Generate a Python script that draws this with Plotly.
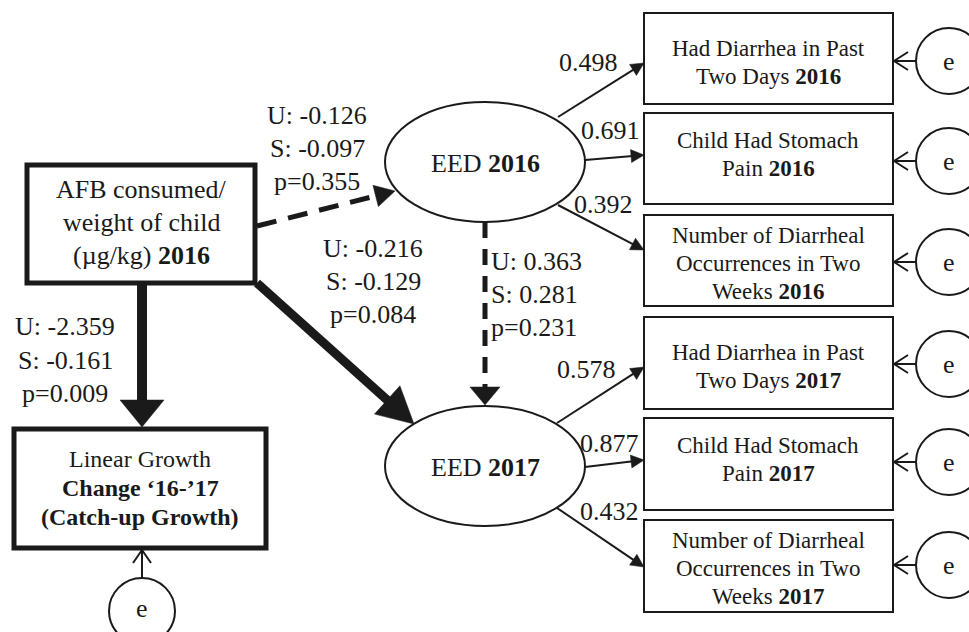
import math
import plotly.graph_objects as go

W, H = 969, 632
FONT = "Liberation Serif, Times New Roman, serif"
INK = "#1a1a1a"

# ---------------- data ----------------
years = ["2016", "2017"]
indicator_lines = [
    ["Had Diarrhea in Past", "Two Days <b>{y}</b>"],
    ["Child Had Stomach", "Pain <b>{y}</b>"],
    ["Number of Diarrheal", "Occurrences in Two", "Weeks <b>{y}</b>"],
]
loadings_2016 = [0.498, 0.691, 0.392]
loadings_2017 = [0.578, 0.877, 0.432]

# structural paths: AFB->EED16, AFB->EED17, EED16->EED17, AFB->Growth
path_U = [-0.126, -0.216, 0.363, -2.359]
path_S = [-0.097, -0.129, 0.281, -0.161]
path_p = [0.355, 0.084, 0.231, 0.009]

afb_lines = ["AFB consumed/", "weight of child", "(µg/kg) <b>2016</b>"]
growth_lines = ["Linear Growth", "<b>Change ‘16-’17</b>", "<b>(Catch-up Growth)</b>"]

# ---------------- layout geometry ----------------
AFB_BOX = (27, 255, 165, 283)
GROWTH_BOX = (14, 266, 429, 548)
EED_X = (385, 585)
EED_Y = [(102, 222), (406, 526)]
IND_X = (644, 893)
IND_Y = [[(13, 104), (113, 204), (215, 306)], [(317, 409), (418, 510), (520, 612)]]
IND_FIRST = [35, 27, 20]
E_CX, E_R = 949, 33
E_CY = [[61, 161, 262], [364, 462, 565]]
LOAD_FROM = [[(558, 117), (585, 160), (558, 205)], [(557, 423), (585, 467), (557, 508)]]
LOAD_TO = [[(644, 63), (644, 155), (644, 250)], [(644, 367), (644, 460), (644, 567)]]
LOAD_LBL = [[(588, 62), (610, 130), (603, 204)], [(586, 369), (609, 443), (609, 511)]]

shapes, annos = [], []


def line(x0, y0, x1, y1, w, dash=None):
    shapes.append(dict(type="line", xref="x", yref="y", x0=x0, y0=y0, x1=x1, y1=y1,
                       line=dict(color=INK, width=w, dash=dash)))


def arrow(x0, y0, x1, y1, w, hl, hw, dash=None):
    dx, dy = x1 - x0, y1 - y0
    L = math.hypot(dx, dy)
    ux, uy = dx / L, dy / L
    bx, by = x1 - ux * hl, y1 - uy * hl
    line(x0, y0, bx + ux * 2, by + uy * 2, w, dash)
    px, py = -uy, ux
    shapes.append(dict(type="path", xref="x", yref="y",
                       path=f"M{x1},{y1} L{bx + px * hw / 2},{by + py * hw / 2} "
                            f"L{bx - px * hw / 2},{by - py * hw / 2} Z",
                       fillcolor=INK, line=dict(color=INK, width=0.5)))


def open_arrow(x0, y0, x1, y1, w, hl, hw):
    dx, dy = x1 - x0, y1 - y0
    L = math.hypot(dx, dy)
    ux, uy = dx / L, dy / L
    bx, by = x1 - ux * hl, y1 - uy * hl
    px, py = -uy, ux
    line(x0, y0, x1, y1, w)
    line(x1, y1, bx + px * hw / 2, by + py * hw / 2, w)
    line(x1, y1, bx - px * hw / 2, by - py * hw / 2, w)


def rect(b, w):
    shapes.append(dict(type="rect", xref="x", yref="y", x0=b[0], x1=b[1], y0=b[2], y1=b[3],
                       line=dict(color=INK, width=w), fillcolor="white"))


def ellipse(x0, x1, y0, y1, w):
    shapes.append(dict(type="circle", xref="x", yref="y", x0=x0, x1=x1, y0=y0, y1=y1,
                       line=dict(color=INK, width=w), fillcolor="white"))


def txt(x, y, s, size, xanchor="center"):
    annos.append(dict(x=x, y=y, xref="x", yref="y", text=s, showarrow=False,
                      xanchor=xanchor, yanchor="middle",
                      font=dict(family=FONT, size=size, color=INK)))


# ---------------- structural arrows ----------------
arrow(257, 226, 395, 191, 5, 20, 22, dash="20px,12px")      # AFB -> EED16
arrow(257, 283, 414, 424, 9, 36, 38)                        # AFB -> EED17
arrow(485, 222, 485, 405, 5, 18, 30, dash="16px,11px")      # EED16 -> EED17
arrow(142, 283, 142, 427, 10, 27, 44)                       # AFB -> Growth

# ---------------- loading arrows ----------------
for k in range(2):
    for i in range(3):
        (fx, fy), (tx, ty) = LOAD_FROM[k][i], LOAD_TO[k][i]
        arrow(fx, fy, tx, ty, 2, 13, 13)
        open_arrow(E_CX - E_R, E_CY[k][i], IND_X[1] + 1, E_CY[k][i], 2, 14, 18)

open_arrow(142, 611 - E_R, 142, GROWTH_BOX[3] + 2, 2, 13, 18)

# ---------------- nodes ----------------
rect(AFB_BOX, 5)
rect(GROWTH_BOX, 5)
for k in range(2):
    ellipse(EED_X[0], EED_X[1], EED_Y[k][0], EED_Y[k][1], 2)
    for i in range(3):
        y0, y1 = IND_Y[k][i]
        rect((IND_X[0], IND_X[1], y0, y1), 2)
        ellipse(E_CX - E_R, E_CX + E_R, E_CY[k][i] - E_R, E_CY[k][i] + E_R, 2)
ellipse(142 - E_R, 142 + E_R, 611 - E_R, 611 + E_R, 2)

# ---------------- texts ----------------
for j, s in enumerate(afb_lines):
    txt(141, 189 + 33 * j, s, 26)
for j, s in enumerate(growth_lines):
    txt(140, 459 + 29 * j, s, 24)
for k, yr in enumerate(years):
    ey = (EED_Y[k][0] + EED_Y[k][1]) / 2
    txt(485, ey + 1, f"EED <b>{yr}</b>", 26)
    loads = loadings_2016 if k == 0 else loadings_2017
    for i in range(3):
        y0, _ = IND_Y[k][i]
        for j, s in enumerate(indicator_lines[i]):
            txt(768, y0 + IND_FIRST[i] + 28 * j, s.format(y=yr), 23)
        lx, ly = LOAD_LBL[k][i]
        txt(lx, ly, f"{loads[i]:.3f}", 26)
        txt(E_CX, E_CY[k][i], "e", 26)
txt(142, 608, "e", 26)


def coef_block(i, x, ys, xanchor="center"):
    txt(x, ys[0], f"U: {path_U[i]:.3f}", 26, xanchor)
    txt(x, ys[1], f"S: {path_S[i]:.3f}", 26, xanchor)
    txt(x, ys[2], f"p={path_p[i]:.3f}", 26, xanchor)


coef_block(0, 317, [115, 148, 181])
coef_block(1, 373, [248, 281, 314])
coef_block(2, 489, [261, 294, 327], "left")
coef_block(3, 65, [326, 360, 393])

fig = go.Figure()
fig.update_layout(
    width=W, height=H, margin=dict(l=0, r=0, t=0, b=0),
    paper_bgcolor="white", plot_bgcolor="white",
    xaxis=dict(range=[0, W], visible=False, fixedrange=True),
    yaxis=dict(range=[H, 0], visible=False, fixedrange=True),
    shapes=shapes, annotations=annos, showlegend=False,
)
fig.write_html("out.html", config={"displayModeBar": False},
               post_script="document.body.style.margin='0';document.body.style.overflow='hidden';")
